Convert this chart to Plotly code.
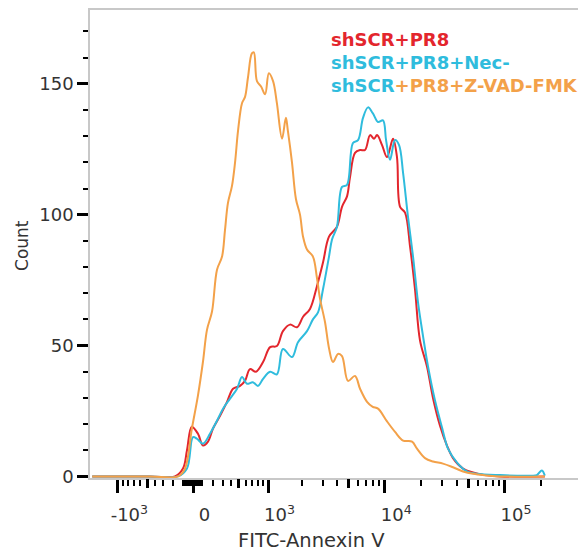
import numpy as np
import plotly.graph_objects as go

# ---- data (FITC-Annexin V intensity, event count) ----
red_x = [-1700, -462, -177, -97, -58, -12, 48, 97, 146, 197, 272, 351, 424, 516, 588, 664, 764, 897,
         1045, 1205, 1365, 1575, 1813, 2045, 2345, 2685, 3025, 3400, 3970, 4375, 4820, 5110, 5625,
         6200, 6825, 7520, 8120, 8600, 9475, 10430, 11700, 12630, 13400, 14750, 16250, 17870, 19660,
         22500, 25250, 28900, 33050, 37100, 45000, 54600, 68700, 91700, 217000]
red_y = [0, 0, 0, 3, 10, 19, 16.3, 11.8, 13.3, 18.3, 23.2, 28.5, 33.5, 34.6, 36.5, 41, 40, 43.7,
         49.4, 49.8, 55.5, 58, 57, 61, 64, 72.6, 81.7, 91.6, 95.4, 103, 107, 114.4, 123.6,
         124.7, 124.7, 130.4, 129, 130.4, 126.6, 122, 129, 122, 103, 100.8, 87.8, 71.5, 52,
         42, 30, 19.4, 11.8, 7, 3, 1.5, 0.5, 0, 0]

blue_x = [-1700, -462, -146, -58, 0, 38, 97, 166, 239, 305, 387, 476, 544, 617, 711, 801, 897, 1045,
          1205, 1365, 1640, 1850, 2210, 2485, 2745, 3025, 3400, 3605, 3970, 4375, 4820, 5410, 5965,
          6565, 7225, 7920, 8770, 9650, 10235, 11050, 12170, 13150, 14200, 15630, 17200, 18930,
          20850, 22950, 26250, 30000, 33700, 40100, 48500, 58800, 91700, 163000, 186000, 205000, 217000]
blue_y = [0, 0, 0, 3, 15, 14.4, 12.5, 16.3, 21.3, 25.9, 29.7, 33.5, 38, 35.4, 36, 34.6, 37.3, 40,
          39, 48.7, 45.6, 51.3, 55.5, 60, 62.7, 71.5, 84, 90.5, 95.4, 110.6, 111.4, 127.4, 128.5,
          137, 141, 138.8, 135.4, 136, 128.5, 121, 128.5, 126.6, 116, 99, 84, 66.5,
          53.6, 42, 29, 18.8, 10.6, 5.3, 1.9, 1, 0.5, 0.3, 0.5, 2.3, 0.3]

orange_x = [-1700, -462, -146, -77, -12, 48, 97, 136, 187, 239, 294, 327, 362, 411, 450, 489, 544, 588,
            633, 695, 728, 782, 858, 938, 1017, 1112, 1205, 1340, 1450, 1510, 1640, 1775, 1925, 2045,
            2210, 2485, 2685, 2850, 3145, 3400, 3675, 4050, 4375, 4915, 5625, 6200, 7095, 7920, 8770,
            10430, 12170, 14200, 16870, 18570, 21650, 25250, 30600, 37100, 45000, 54600, 71400, 91700, 217000]
orange_y = [0, 0, 0, 3, 18, 31, 44, 56, 63, 79, 84, 94, 104.5, 111, 120, 132, 142.6, 145,
            152.5, 161.6, 162, 151, 149, 146, 154, 151, 142.6, 129, 137, 132, 120, 106, 100, 91.6,
            86.7, 84, 76, 68, 59, 49, 43.7, 46.8, 46, 36.5, 38.4, 33.5, 28.5, 26.6, 25.9,
            21, 17, 13.7, 13.3, 10.6, 7, 5.7, 4.9, 3.5, 1.9, 1, 0.4, 0, 0]

series_names = ["shSCR+PR8", "shSCR+PR8+Nec-", "shSCR+PR8+Z-VAD-FMK"]

major_vals = [-1000, 0, 1000, 10000, 100000]
major_text = ["-10<sup>3</sup>", "0", "10<sup>3</sup>", "10<sup>4</sup>", "10<sup>5</sup>"]
mid_vals = [-500, 500, 5000, 50000]
minor_vals = ([v for v in range(-900, 0, 100) if v != -500]
              + [v for v in range(-90, 100, 10) if v != 0]
              + [v for v in range(200, 1000, 100) if v != 500]
              + [v for v in range(2000, 10000, 1000) if v != 5000]
              + [v for v in range(20000, 100000, 10000) if v != 50000]
              + [200000])
y_major = [0, 50, 100, 150]

# ---- biexponential-like (arcsinh) display scale ----
C = 500.0
def tx(v):
    return np.arcsinh(np.asarray(v, dtype=float) / C)

RED = "#E3262D"
BLUE = "#2FBCDD"
ORANGE = "#F3A149"
FONT = "DejaVu Sans"
TXT = "#333333"
PAD = "\u00a0" * 4  # labels sit slightly right of their ticks, as in the reference

fig = go.Figure()
for xs, ys, col, nm in [(red_x, red_y, RED, series_names[0]),
                        (blue_x, blue_y, BLUE, series_names[1]),
                        (orange_x, orange_y, ORANGE, series_names[2])]:
    fig.add_trace(go.Scatter(x=tx(xs), y=ys, mode="lines", name=nm,
                             line=dict(color=col, width=2, shape="spline", smoothing=1.0),
                             showlegend=False, xaxis="x", yaxis="y"))

# invisible trace to activate the mid-tick overlay axis
fig.add_trace(go.Scatter(x=[tx(0)], y=[0], mode="markers", marker=dict(opacity=0),
                         showlegend=False, hoverinfo="skip", xaxis="x2", yaxis="y"))

xr = [-1.981, 7.558]
fig.update_layout(
    width=578, height=550,
    margin=dict(l=82, r=0, t=0, b=80),
    plot_bgcolor="white", paper_bgcolor="white",
    font=dict(family=FONT, color=TXT),
    xaxis=dict(range=xr, showgrid=False, zeroline=False,
               showline=True, linecolor="#c8c8c8", linewidth=1.5, mirror=True,
               tickmode="array", tickvals=list(tx(major_vals)),
               ticktext=[PAD + t for t in major_text],
               ticks="outside", ticklen=13, tickwidth=3, tickcolor="black",
               ticklabelstandoff=7,
               tickfont=dict(size=18, color=TXT),
               minor=dict(tickmode="array", tickvals=list(tx(minor_vals)),
                          ticks="outside", ticklen=6, tickwidth=2, tickcolor="black")),
    xaxis2=dict(range=xr, overlaying="x", anchor="y", side="bottom",
                showgrid=False, zeroline=False, showline=False,
                tickmode="array", tickvals=list(tx(mid_vals)), showticklabels=False,
                ticks="outside", ticklen=9, tickwidth=3, tickcolor="black"),
    yaxis=dict(range=[-0.6, 178.2], showgrid=False, zeroline=False,
               showline=True, linecolor="#c8c8c8", linewidth=1.5,
               tickmode="array", tickvals=y_major, ticktext=[str(v) for v in y_major],
               ticks="outside", ticklen=11, tickwidth=3, tickcolor="black",
               tickfont=dict(size=18, color=TXT),
               minor=dict(dtick=10, tick0=0, ticks="outside", ticklen=5, tickwidth=2, tickcolor="black")),
)

# axis titles (plot area spans page x 90..586, y 8..478)
fig.add_annotation(text="Count", xref="paper", yref="paper", x=(22 - 90) / 496, y=(478 - 245) / 470,
                   textangle=-90, showarrow=False, font=dict(size=17, color=TXT),
                   xanchor="center", yanchor="middle")
fig.add_annotation(text="FITC-Annexin V", xref="paper", yref="paper", x=(311 - 90) / 496,
                   y=(478 - 541) / 470,
                   showarrow=False, font=dict(size=19.5, color=TXT),
                   xanchor="center", yanchor="middle")

# legend text
leg_x = (329 - 90) / 496
legend_lines = [
    f"<b><span style='color:{RED}'>shSCR+PR8</span></b>",
    f"<b><span style='color:{BLUE}'>shSCR+PR8+Nec-</span></b>",
    f"<b><span style='color:{BLUE}'>shSCR</span><span style='color:{ORANGE}'>+PR8+Z-VAD-FMK</span></b>",
]
for i, t in enumerate(legend_lines):
    py = 38 + 23 * i
    fig.add_annotation(text=t, xref="paper", yref="paper", x=leg_x, y=(478 - py) / 470,
                       showarrow=False, xanchor="left", yanchor="middle",
                       font=dict(size=18, family=FONT))

fig.write_html("out.html")
